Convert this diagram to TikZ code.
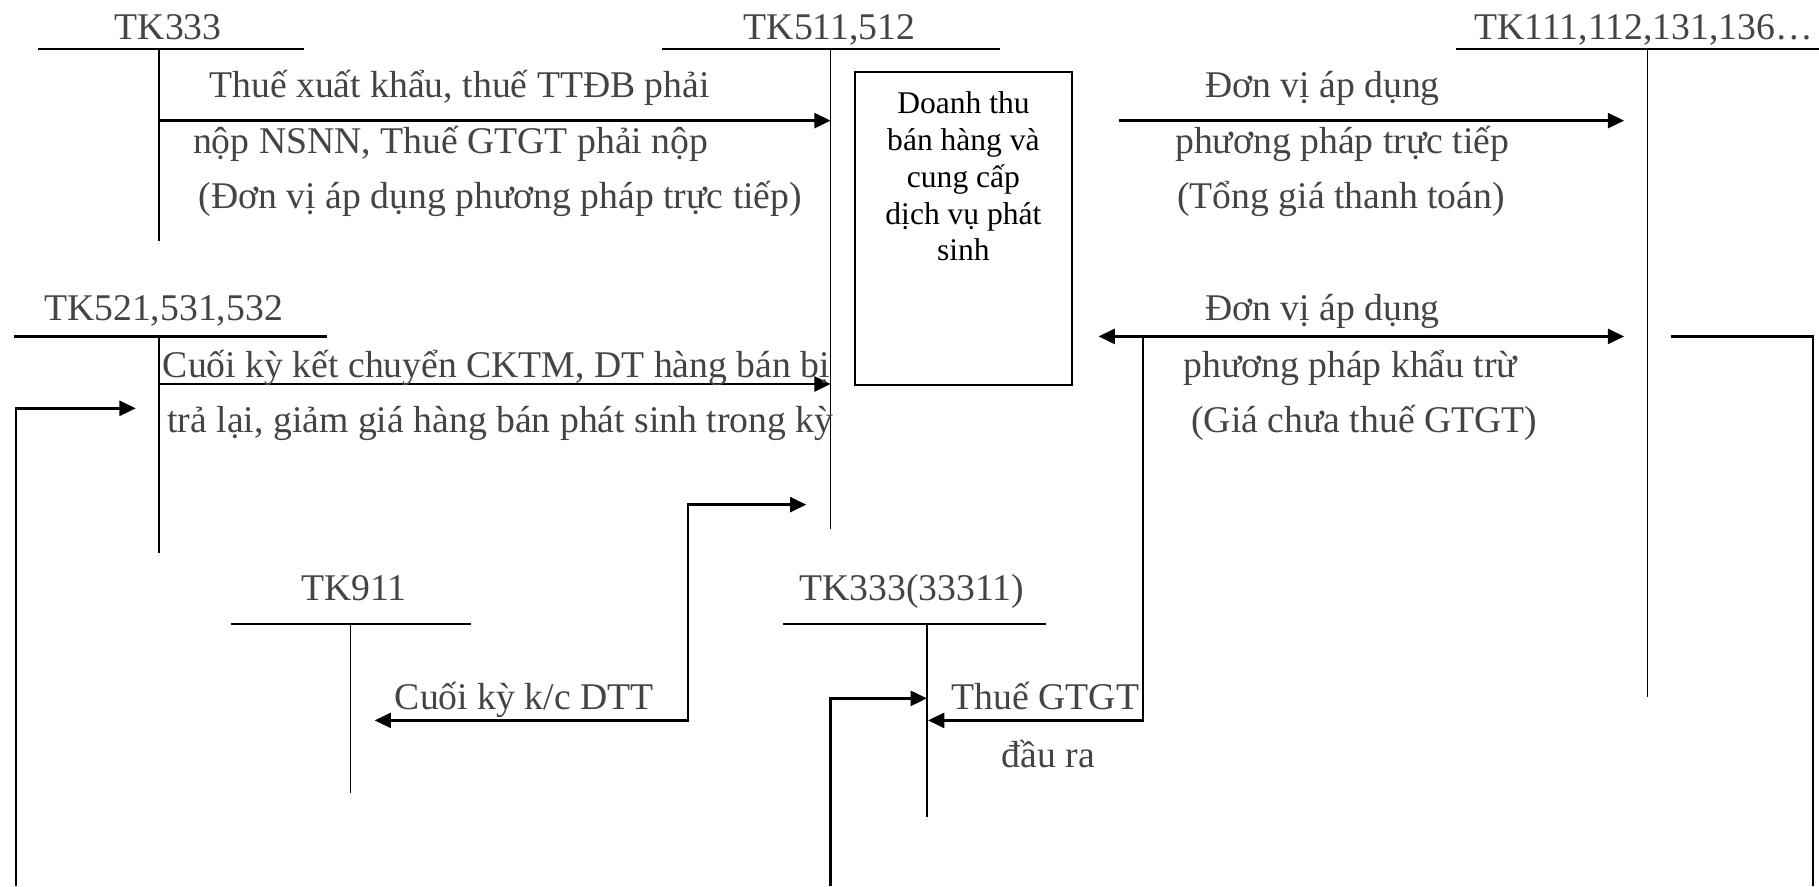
\documentclass[tikz,border=0pt]{standalone}
\usepackage{fontspec}
\setmainfont{Liberation Serif}
\usetikzlibrary{arrows.meta}
\definecolor{txtgray}{RGB}{68,68,68}
\begin{document}
\begin{tikzpicture}[x=0.5pt,y=-0.5pt,
  tline/.style={line width=1pt},
  vline/.style={line width=0.6pt},
  conn/.style={line width=1pt},
  tip/.style={-{Triangle[length=7pt,width=6.5pt]}},
  twotip/.style={{Triangle[length=7pt,width=6.5pt]}-{Triangle[length=7pt,width=6.5pt]}},
  lbl/.style={font=\fontsize{16.25}{19}\selectfont, text=txtgray, inner sep=0pt},
  boxtxt/.style={font=\fontsize{13.6}{15.9}\selectfont, text=black, inner sep=0pt, align=center}
]
\useasboundingbox (0,0) rectangle (1568,764);

% ---------- T-accounts ----------
% TK333
\node[lbl, anchor=base] (l333) at (145,34) {TK333};
\coordinate (t333L) at (33,42); \coordinate (t333R) at (262,42);
\coordinate (v333T) at (137,42); \coordinate (v333B) at (137,208);
\draw[tline] (t333L) -- (t333R);
\draw[vline] (v333T) -- (v333B);
% TK511,512
\node[lbl, anchor=base] (l511) at (715,34) {TK511,512};
\coordinate (t511L) at (571,42); \coordinate (t511R) at (862,42);
\coordinate (v511T) at (716,42); \coordinate (v511B) at (716,456);
\draw[tline] (t511L) -- (t511R);
\draw[vline] (v511T) -- (v511B);
% TK111...
\node[lbl, anchor=base] (l111) at (1417,34) {TK111,112,131,136…};
\coordinate (t111L) at (1255,42); \coordinate (t111R) at (1568,42);
\coordinate (v111T) at (1420,42); \coordinate (v111B) at (1420,601);
\draw[tline] (t111L) -- (t111R);
\draw[vline] (v111T) -- (v111B);
% TK521,531,532
\node[lbl, anchor=base] (l521) at (141,276) {TK521,531,532};
\coordinate (t521L) at (12,290); \coordinate (t521R) at (282,290);
\coordinate (v521T) at (137,290); \coordinate (v521B) at (137,477);
\draw[tline] (t521L) -- (t521R);
\draw[vline] (v521T) -- (v521B);
% TK911
\node[lbl, anchor=base] (l911) at (305,518) {TK911};
\coordinate (t911L) at (199,538); \coordinate (t911R) at (406,538);
\coordinate (v911T) at (302,538); \coordinate (v911B) at (302,684);
\draw[tline] (t911L) -- (t911R);
\draw[vline] (v911T) -- (v911B);
% TK333(33311)
\node[lbl, anchor=base] (l33311) at (786,518) {TK333(33311)};
\coordinate (t3L) at (675,538); \coordinate (t3R) at (902,538);
\coordinate (v3T) at (799,538); \coordinate (v3B) at (799,704);
\draw[tline] (t3L) -- (t3R);
\draw[vline] (v3T) -- (v3B);

% ---------- Box ----------
\draw[line width=0.8pt] (737,62) rectangle (924,332);
\node[boxtxt, anchor=north] (box) at (830.5,78.5)
  {Doanh thu\\bán hàng và\\cung cấp\\dịch vụ phát\\sinh};

% ---------- Arrows ----------
\coordinate (a1s) at (137,104); \coordinate (a1e) at (716,104);
\draw[conn, tip] (a1s) -- (a1e);
\coordinate (a2s) at (965,104); \coordinate (a2e) at (1400,104);
\draw[conn, tip] (a2s) -- (a2e);
\coordinate (a3s) at (137,331); \coordinate (a3e) at (716,331);
\draw[conn, tip] (a3s) -- (a3e);
\coordinate (a4s) at (14,764); \coordinate (a4e) at (117,352);
\draw[conn, tip] (a4s) |- (a4e);
\coordinate (a5s) at (947,290); \coordinate (a5e) at (1400,290);
\draw[conn, twotip] (a5s) -- (a5e);
\coordinate (a6s) at (985,290); \coordinate (a6e) at (800,621);
\draw[conn, tip] (a6s) |- (a6e);
\coordinate (a7s) at (1440,290); \coordinate (a7c) at (1563,290); \coordinate (a7e) at (1563,764);
\draw[conn] (a7s) -- (a7c) -- (a7e);
\coordinate (a8s) at (695,435); \coordinate (a8c1) at (593,435); \coordinate (a8c2) at (593,621); \coordinate (a8e) at (323,621);
\draw[conn, twotip] (a8s) -- (a8c1) -- (a8c2) -- (a8e);
\coordinate (a9s) at (716,764); \coordinate (a9e) at (799,602);
\draw[conn, tip] (a9s) |- (a9e);

% ---------- Labels ----------
\node[lbl, anchor=base west] (x1) at (180,84) {Thuế xuất khẩu, thuế TTĐB phải};
\node[lbl, anchor=base west] (x2) at (166,132) {nộp NSNN, Thuế GTGT phải nộp};
\node[lbl, anchor=base west] (x3) at (171,180) {(Đơn vị áp dụng phương pháp trực tiếp)};

\node[lbl, anchor=base] (r1) at (1140,84) {Đơn vị áp dụng};
\node[lbl, anchor=base] (r2) at (1157,132) {phương pháp trực tiếp};
\node[lbl, anchor=base] (r3) at (1156,180) {(Tổng giá thanh toán)};

\node[lbl, anchor=base west] (c1) at (140,325) {Cuối kỳ kết chuyển CKTM, DT hàng bán bị};
\node[lbl, anchor=base west] (c2) at (144,373) {trả lại, giảm giá hàng bán phát sinh trong kỳ};

\node[lbl, anchor=base] (k1) at (1140,276) {Đơn vị áp dụng};
\node[lbl, anchor=base] (k2) at (1164,325) {phương pháp khẩu trừ};
\node[lbl, anchor=base] (k3) at (1176,373) {(Giá chưa thuế GTGT)};

\node[lbl, anchor=base west] (d1) at (340,612) {Cuối kỳ k/c DTT};
\node[lbl, anchor=base west] (g1) at (820,612) {Thuế GTGT};
\node[lbl, anchor=base west] (g2) at (863,662) {đầu ra};
\end{tikzpicture}
\end{document}
